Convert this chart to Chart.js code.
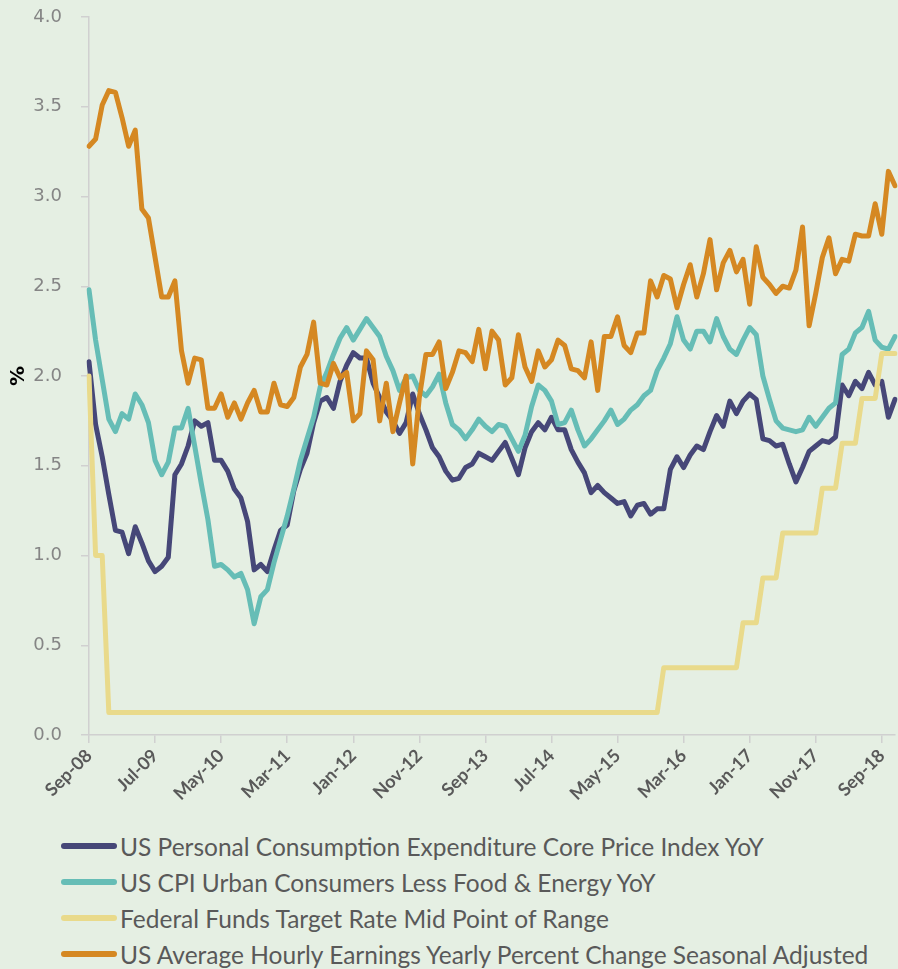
<!DOCTYPE html>
<html lang="en">
<head>
  <meta charset="UTF-8">
  <title>US inflation, wages and Fed funds rate</title>
  <script src="https://cdn.jsdelivr.net/npm/chart.js@4.4.1/dist/chart.umd.min.js"></script>
  <style>
    body { margin: 0; padding: 0; background: #e5efe3; width: 898px; height: 969px; overflow: hidden; position: relative; }
    #wrap { position: absolute; left: 0; top: 0; width: 898px; height: 815px; }
    .legend { position: absolute; left: 61px; top: 828px; font-family: Lato, sans-serif; font-size: 24.5px; color: #595959; }
    .legend .row { display: flex; align-items: center; height: 36px; }
    .legend .swatch { width: 56px; height: 6px; border-radius: 3px; margin-right: 3px; }
  </style>
</head>
<body>
  <div id="wrap"><canvas id="chart"></canvas></div>
  <div class="legend" id="legend"></div>

  <script>
    // monthly, Sep-08 .. Nov-18
    const monthNames = ['Jan', 'Feb', 'Mar', 'Apr', 'May', 'Jun', 'Jul', 'Aug', 'Sep', 'Oct', 'Nov', 'Dec'];
    const months = [];
    for (let k = 0; k < 123; k++) {
      const m = (8 + k) % 12;
      const y = 8 + Math.floor((8 + k) / 12);
      months.push(monthNames[m] + '-' + String(y).padStart(2, '0'));
    }

    const pceCore = [
      2.08, 1.73, 1.55, 1.34, 1.14, 1.13, 1.01, 1.16, 1.07, 0.97,
      0.91, 0.94, 0.99, 1.45, 1.51, 1.61, 1.75, 1.72, 1.74, 1.53,
      1.53, 1.47, 1.37, 1.32, 1.19, 0.92, 0.95, 0.91, 1.03, 1.14,
      1.17, 1.36, 1.48, 1.57, 1.74, 1.86, 1.88, 1.82, 1.97, 2.06,
      2.13, 2.10, 2.10, 1.96, 1.88, 1.80, 1.75, 1.68, 1.74, 1.90,
      1.79, 1.70, 1.60, 1.55, 1.47, 1.42, 1.43, 1.49, 1.51, 1.57,
      1.55, 1.53, 1.58, 1.63, 1.54, 1.45, 1.60, 1.69, 1.74, 1.70,
      1.77, 1.70, 1.70, 1.59, 1.52, 1.46, 1.35, 1.39, 1.35, 1.32,
      1.29, 1.30, 1.22, 1.28, 1.29, 1.23, 1.26, 1.26, 1.48, 1.55,
      1.49, 1.56, 1.61, 1.59, 1.69, 1.78, 1.72, 1.86, 1.79, 1.86,
      1.90, 1.87, 1.65, 1.64, 1.61, 1.62, 1.51, 1.41, 1.49, 1.58,
      1.61, 1.64, 1.63, 1.66, 1.95, 1.89, 1.97, 1.93, 2.02, 1.95,
      1.97, 1.77, 1.87
    ];

    const cpiCore = [
      2.48, 2.20, 1.98, 1.76, 1.69, 1.79, 1.76, 1.90, 1.84, 1.74,
      1.53, 1.45, 1.52, 1.71, 1.71, 1.82, 1.61, 1.40, 1.20, 0.94,
      0.95, 0.92, 0.88, 0.90, 0.81, 0.62, 0.77, 0.81, 0.96, 1.09,
      1.22, 1.37, 1.53, 1.65, 1.77, 1.94, 2.02, 2.12, 2.21, 2.27,
      2.20, 2.26, 2.32, 2.27, 2.22, 2.11, 2.03, 1.92, 1.99, 2.00,
      1.92, 1.89, 1.94, 2.01, 1.85, 1.73, 1.70, 1.65, 1.70, 1.76,
      1.72, 1.69, 1.73, 1.72, 1.65, 1.58, 1.67, 1.83, 1.95, 1.92,
      1.86, 1.73, 1.74, 1.81, 1.70, 1.61, 1.65, 1.70, 1.75, 1.81,
      1.73, 1.76, 1.81, 1.84, 1.89, 1.92, 2.03, 2.10, 2.18, 2.33,
      2.20, 2.15, 2.25, 2.25, 2.19, 2.32, 2.22, 2.15, 2.12, 2.20,
      2.27, 2.23, 2.00, 1.87, 1.75, 1.71, 1.70, 1.69, 1.70, 1.77,
      1.72, 1.77, 1.82, 1.85, 2.12, 2.15, 2.24, 2.27, 2.36, 2.20,
      2.16, 2.15, 2.22
    ];

    const fedFunds = [
      2.0, 1.0, 1.0,
      0.125, 0.125, 0.125, 0.125, 0.125, 0.125, 0.125, 0.125, 0.125, 0.125, 0.125, 0.125,
      0.125, 0.125, 0.125, 0.125, 0.125, 0.125, 0.125, 0.125, 0.125, 0.125, 0.125, 0.125,
      0.125, 0.125, 0.125, 0.125, 0.125, 0.125, 0.125, 0.125, 0.125, 0.125, 0.125, 0.125,
      0.125, 0.125, 0.125, 0.125, 0.125, 0.125, 0.125, 0.125, 0.125, 0.125, 0.125, 0.125,
      0.125, 0.125, 0.125, 0.125, 0.125, 0.125, 0.125, 0.125, 0.125, 0.125, 0.125, 0.125,
      0.125, 0.125, 0.125, 0.125, 0.125, 0.125, 0.125, 0.125, 0.125, 0.125, 0.125, 0.125,
      0.125, 0.125, 0.125, 0.125, 0.125, 0.125, 0.125, 0.125, 0.125, 0.125, 0.125, 0.125,
      0.375, 0.375, 0.375, 0.375, 0.375, 0.375, 0.375, 0.375, 0.375, 0.375, 0.375, 0.375,
      0.625, 0.625, 0.625,
      0.875, 0.875, 0.875,
      1.125, 1.125, 1.125, 1.125, 1.125, 1.125,
      1.375, 1.375, 1.375,
      1.625, 1.625, 1.625,
      1.875, 1.875, 1.875,
      2.125, 2.125, 2.125
    ];

    const hourlyEarnings = [
      3.28, 3.32, 3.51, 3.59, 3.58, 3.44, 3.28, 3.37, 2.93, 2.88,
      2.66, 2.44, 2.44, 2.53, 2.14, 1.96, 2.10, 2.09, 1.82, 1.82,
      1.90, 1.77, 1.85, 1.76, 1.85, 1.92, 1.80, 1.80, 1.96, 1.84,
      1.83, 1.88, 2.05, 2.12, 2.30, 1.96, 1.95, 2.07, 1.99, 2.02,
      1.75, 1.79, 2.14, 2.09, 1.75, 1.96, 1.69, 1.85, 2.00, 1.51,
      1.88, 2.12, 2.12, 2.19, 1.93, 2.02, 2.14, 2.13, 2.08, 2.26,
      2.04, 2.25, 2.20, 1.95, 1.99, 2.23, 2.05, 1.97, 2.14, 2.05,
      2.09, 2.20, 2.17, 2.04, 2.03, 1.99, 2.19, 1.92, 2.22, 2.22,
      2.33, 2.17, 2.13, 2.24, 2.24, 2.53, 2.44, 2.56, 2.54, 2.38,
      2.51, 2.62, 2.44, 2.57, 2.76, 2.48, 2.63, 2.70, 2.58, 2.65,
      2.40, 2.72, 2.55, 2.51, 2.46, 2.50, 2.49, 2.59, 2.83, 2.28,
      2.46, 2.66, 2.77, 2.57, 2.65, 2.64, 2.79, 2.78, 2.78, 2.96,
      2.79, 3.14, 3.06
    ];

    const series = [
      { label: 'US Personal Consumption Expenditure Core Price Index YoY', data: pceCore, color: '#464778', order: 4 },
      { label: 'US CPI Urban Consumers Less Food & Energy YoY', data: cpiCore, color: '#66bdb6', order: 3 },
      { label: 'Federal Funds Target Rate Mid Point of Range', data: fedFunds, color: '#e9da8b', order: 2 },
      { label: 'US Average Hourly Earnings Yearly Percent Change Seasonal Adjusted', data: hourlyEarnings, color: '#d58822', order: 1 }
    ];

    const axisGrey = '#d0d0d0';

    new Chart(document.getElementById('chart'), {
      type: 'line',
      data: {
        labels: months,
        datasets: series.map(s => ({
          label: s.label,
          data: s.data,
          borderColor: s.color,
          backgroundColor: s.color,
          borderWidth: 5,
          pointRadius: 0,
          tension: 0,
          borderJoinStyle: 'round',
          borderCapStyle: 'round',
          order: s.order
        }))
      },
      options: {
        responsive: true,
        maintainAspectRatio: false,
        animation: false,
        layout: { padding: { top: 17, right: 3, left: 0, bottom: 0 } },
        scales: {
          x: {
            ticks: {
              autoSkip: false,
              minRotation: 45,
              maxRotation: 45,
              padding: 2,
              color: '#595959',
              font: { family: 'Lato', size: 18, weight: 'bold' }
            },
            afterBuildTicks: axis => { axis.ticks = axis.ticks.filter(t => t.value % 10 === 0); },
            afterFit: axis => { axis.height = 80; axis.paddingRight = 0; },
            grid: { drawOnChartArea: false, tickLength: 8, color: axisGrey, lineWidth: 1.5 },
            border: { color: axisGrey, width: 1.5 }
          },
          y: {
            min: 0,
            max: 4,
            ticks: {
              stepSize: 0.5,
              padding: 19,
              color: '#858585',
              font: { family: 'DejaVu Sans', size: 18 },
              callback: v => v.toFixed(1)
            },
            title: {
              display: true,
              text: '%',
              color: '#000',
              font: { family: 'DejaVu Sans', size: 20, weight: 'bold' },
              padding: { top: 7, bottom: 3 }
            },
            afterFit: axis => { axis.width = 89; axis.paddingTop = 0; axis.paddingBottom = 0; },
            grid: { drawOnChartArea: false, tickLength: 8, color: axisGrey, lineWidth: 1.5 },
            border: { color: axisGrey, width: 1.5 }
          }
        },
        plugins: {
          legend: { display: false },
          tooltip: { enabled: false }
        }
      }
    });

    // legend below the chart
    const legend = document.getElementById('legend');
    series.forEach(s => {
      const row = document.createElement('div');
      row.className = 'row';
      const sw = document.createElement('span');
      sw.className = 'swatch';
      sw.style.background = s.color;
      const txt = document.createElement('span');
      txt.textContent = s.label;
      row.appendChild(sw);
      row.appendChild(txt);
      legend.appendChild(row);
    });
  </script>
</body>
</html>
